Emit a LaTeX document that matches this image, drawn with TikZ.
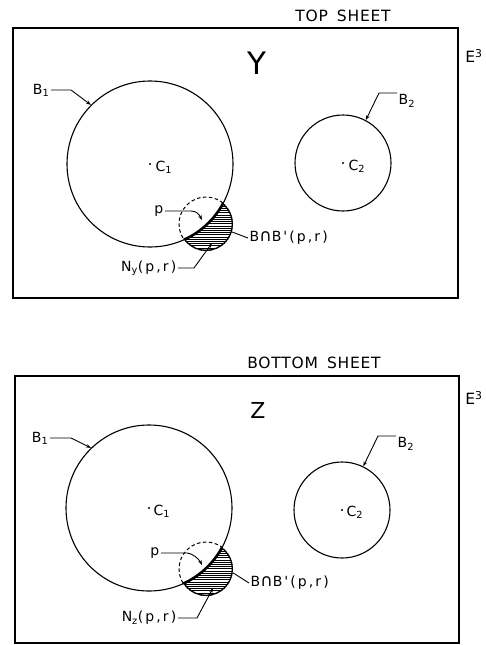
\documentclass[tikz,border=0pt]{standalone}
\usepackage{fontspec}
\setmainfont{DejaVu Sans}[LetterSpace=5]
\newfontfamily\lblfont{DejaVu Sans}[LetterSpace=15]
\usetikzlibrary{arrows.meta}

\begin{document}
\begin{tikzpicture}[
  x=1pt, y=-1pt,
  font=\lblfont\fontsize{14}{16}\selectfont,
  title/.style={font=\rmfamily\fontsize{15.5}{17}\selectfont},
  big/.style={font=\rmfamily\fontsize{31}{33}\selectfont},
  ball/.style={circle, draw, line width=1.1pt, inner sep=0pt},
  nbhd/.style={circle, inner sep=0pt, minimum size=54pt},
  ctr/.style={circle, fill, inner sep=0pt, minimum size=2.2pt},
  lbl/.style={inner sep=1.5pt},
  sheet/.style={line width=1.4pt},
  rim/.style={line width=2.6pt},
  hatch/.style={line width=0.55pt},
  dashrim/.style={line width=1pt, dash pattern=on 3.5pt off 2.5pt},
  lead/.style={line width=0.9pt},
  arr/.style={lead, -{Stealth[length=5pt,width=3.6pt]}}
]
\useasboundingbox (0,0) rectangle (485,645);

% top sheet
\draw[sheet] (13,28) rectangle (458,298);
\node[title] (ttop) at (343,16) {TOP\hspace{9pt}SHEET};
\node[title] (etop) at (474,56) {E\textsuperscript{3}};
\node[big] (yset) at (257,63) {Y};

\node[ball, minimum size=166pt] (B1y) at (150,164) {};
\node[ball, minimum size=96pt] (B2y) at (343,163) {};
\node[nbhd] (Bpy) at (206,224) {};
\node[ctr] (c1y) at (B1y) {};
\node[ctr] (c2y) at (B2y) {};
\node[lbl, anchor=west] (lc1y) at (154,167) {C\textsubscript{1}};
\node[lbl, anchor=west] (lc2y) at (347,166) {C\textsubscript{2}};

% the part of B'(p,r) outside B1
\begin{scope}[even odd rule]
  \clip (Bpy.center) circle[radius=27pt];
  \clip (0,0) rectangle (485,645) (B1y.center) circle[radius=83pt];
  \foreach \h in {195,197.2,...,254} \draw[hatch] (175,\h) -- (240,\h);
  \draw[rim] (Bpy.center) circle[radius=27pt];
\end{scope}
\begin{scope}
  \clip (B1y.center) circle[radius=83pt];
  \draw[dashrim] (Bpy.center) circle[radius=27pt];
\end{scope}
\begin{scope}
  \clip (Bpy.center) circle[radius=27pt];
  \draw[rim] (B1y.center) circle[radius=83pt];
\end{scope}

\node[lbl, anchor=east] (lb1y) at (51,90) {B\textsubscript{1}};
\node[lbl, anchor=north west] (lb2y) at (397,93) {B\textsubscript{2}};
\node[lbl, anchor=east] (lpy) at (165,211) {p};
\node[lbl, anchor=west] (lcapy) at (248,238) {B{\fontsize{17}{17}\selectfont ∩}B'(p,r)};
\node[lbl, anchor=east] (lny) at (178,268) {N\textsubscript{y}(p,r)};
\coordinate (ny) at (212,243);

\draw[arr] (lb1y.east) -- ++(20,0) -- (B1y.135);
\draw[arr] (lb2y.north west) -- ++(-18,0) -- (B2y.62);
\draw[arr] (lpy.east) -- ++(26,0) .. controls +(5,0) and +(-3,-6) .. ([shift={(-4,-4)}]Bpy.center);
\draw[lead] (Bpy.-17) -- (lcapy.west);
\draw[arr] (lny.east) -- ++(16,0) -- (ny);

% bottom sheet
\draw[sheet] (15,376) rectangle (459,643);
\node[title] (tbot) at (314,363) {BOTTOM\hspace{9pt}SHEET};
\node[title] (ebot) at (474,398) {E\textsuperscript{3}};
\node[font=\rmfamily\fontsize{22}{24}\selectfont] (zset) at (258,410) {Z};

\node[ball, minimum size=166pt] (B1z) at (149,508) {};
\node[ball, minimum size=96pt] (B2z) at (342,510) {};
\node[nbhd] (Bpz) at (206,569) {};
\node[ctr] (c1z) at (B1z) {};
\node[ctr] (c2z) at (B2z) {};
\node[lbl, anchor=west] (lc1z) at (152,511) {C\textsubscript{1}};
\node[lbl, anchor=west] (lc2z) at (345,512) {C\textsubscript{2}};

% the part of B'(p,r) outside B1
\begin{scope}[even odd rule]
  \clip (Bpz.center) circle[radius=27pt];
  \clip (0,0) rectangle (485,645) (B1z.center) circle[radius=83pt];
  \foreach \h in {540,542.2,...,599} \draw[hatch] (175,\h) -- (240,\h);
  \draw[rim] (Bpz.center) circle[radius=27pt];
\end{scope}
\begin{scope}
  \clip (B1z.center) circle[radius=83pt];
  \draw[dashrim] (Bpz.center) circle[radius=27pt];
\end{scope}
\begin{scope}
  \clip (Bpz.center) circle[radius=27pt];
  \draw[rim] (B1z.center) circle[radius=83pt];
\end{scope}

\node[lbl, anchor=east] (lb1z) at (50,438) {B\textsubscript{1}};
\node[lbl, anchor=north west] (lb2z) at (396,436) {B\textsubscript{2}};
\node[lbl, anchor=east] (lpz) at (161,553) {p};
\node[lbl, anchor=west] (lcapz) at (249,583) {B{\fontsize{17}{17}\selectfont ∩}B'(p,r)};
\node[lbl, anchor=east] (lnz) at (178,618) {N\textsubscript{z}(p,r)};
\coordinate (nz) at (213,588);

\draw[arr] (lb1z.east) -- ++(21,0) -- (B1z.134);
\draw[arr] (lb2z.north west) -- ++(-18,0) -- (B2z.64);
\draw[arr] (lpz.east) -- ++(26,0) .. controls +(5,0) and +(-3,-6) .. ([shift={(-4,-4)}]Bpz.center);
\draw[lead] (Bpz.-8) -- (lcapz.west);
\draw[arr] (lnz.east) -- ++(19,0) -- (nz);

\end{tikzpicture}
\end{document}
